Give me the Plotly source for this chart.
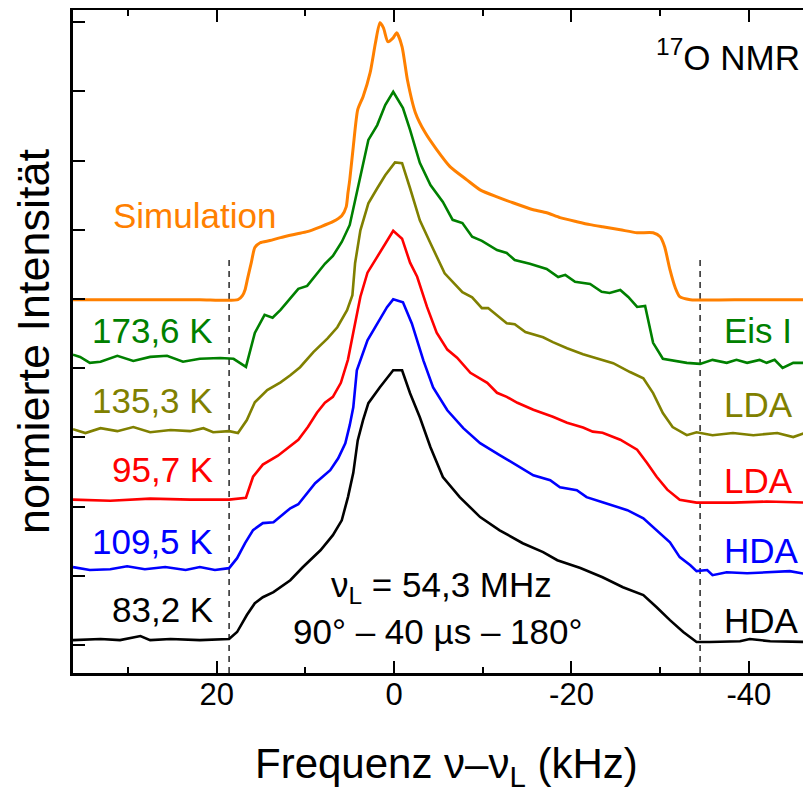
import plotly.graph_objects as go

# ---------------- data ----------------
# frequency nu - nu_L in kHz, intensity normalised to the spectrum maximum
freq_sim = [36.2, 27.5, 21.9, 17.6, 17.1, 16.8, 16.5, 16.1, 15.7, 15.1, 14.0, 12.8, 10.9, 9.8, 8.3, 6.9,
            5.9, 5.4, 5.2, 5.0, 4.6, 4.1, 3.5, 2.7, 2.1, 1.6, 1.2, 0.7, 0.1, -0.3, -0.9, -1.5, -2.4,
            -3.5, -4.8, -6.3, -8.2, -9.7, -11.6, -13.4, -15.7, -17.2, -18.7, -20.6, -22.1, -23.5,
            -25.5, -27.4, -29.2, -30.0, -30.5, -31.1, -31.7, -32.2, -33.4, -40.1, -47.0]
int_sim = [0, 0, 0, 0, 0.015, 0.037, 0.081, 0.137, 0.193, 0.211, 0.219, 0.23, 0.244, 0.252, 0.27, 0.289,
           0.311, 0.344, 0.396, 0.444, 0.567, 0.704, 0.752, 0.841, 0.952, 1.026, 1.007, 0.956, 0.97,
           0.989, 0.937, 0.815, 0.693, 0.619, 0.556, 0.493, 0.444, 0.407, 0.381, 0.359, 0.333, 0.322,
           0.304, 0.289, 0.278, 0.27, 0.259, 0.248, 0.248, 0.233, 0.196, 0.111, 0.044, 0.011, 0, 0, 0]

freq_1736K = [36.2, 35.4, 34.3, 33.1, 31.2, 29.4, 27.5, 25.6, 23.8, 21.9, 19.6, 18.1, 16.7, 15.7, 14.6,
              13.7, 12.8, 11.7, 10.8, 9.8, 8.7, 7.8, 6.9, 5.9, 5.0, 4.4, 3.6, 2.9, 1.9, 1.0, 0.1, -1.0,
              -1.8, -2.9, -4.1, -5.5, -6.6, -7.7, -8.8, -9.9, -11.6, -12.7, -13.6, -15.3, -17.2, -18.5,
              -19.3, -20.4, -22.1, -23.4, -24.3, -25.5, -26.4, -27.4, -28.3, -29.2, -30.3, -33.0, -34.5,
              -35.9, -37.5, -38.6, -39.8, -41.2, -42.0, -42.9, -43.8, -45.0, -47.0]
int_1736K = [0.019, 0.011, -0.011, -0.007, 0.015, -0.004, 0.011, 0.015, -0.007, 0.004, 0.007, 0.004,
             -0.026, 0.1, 0.167, 0.156, 0.185, 0.23, 0.263, 0.274, 0.319, 0.356, 0.385, 0.437, 0.5, 0.593,
             0.715, 0.815, 0.87, 0.944, 0.993, 0.933, 0.852, 0.73, 0.648, 0.585, 0.519, 0.507, 0.456,
             0.441, 0.407, 0.396, 0.37, 0.356, 0.337, 0.307, 0.315, 0.289, 0.281, 0.252, 0.248, 0.259,
             0.233, 0.196, 0.2, 0.063, 0.004, -0.011, -0.015, 0, -0.011, 0, -0.011, 0, -0.011, 0, -0.03,
             -0.011, -0.011]

freq_1353K = [36.2, 34.8, 33.1, 31.2, 29.4, 27.5, 25.2, 23.0, 21.5, 20.4, 18.6, 17.6, 16.6, 15.7, 14.3,
              12.8, 11.7, 10.6, 9.1, 7.5, 6.4, 5.3, 4.7, 4.4, 3.8, 2.9, 1.9, 1.0, -0.1, -0.9, -1.8, -2.9,
              -4.1, -5.7, -7.7, -8.8, -9.9, -10.6, -12.7, -13.6, -14.8, -16.8, -17.9, -19.5, -21.3,
              -22.9, -24.7, -26.6, -28.1, -29.2, -30.3, -31.4, -33.0, -34.1, -35.9, -38.2, -40.5, -43.2,
              -45.0, -46.5, -47.0]
int_1353K = [0.007, -0.007, 0.011, 0, 0.015, -0.004, 0.004, 0, 0.011, -0.004, 0, -0.007, 0.041, 0.107,
             0.152, 0.181, 0.207, 0.237, 0.293, 0.344, 0.385, 0.448, 0.504, 0.622, 0.744, 0.844, 0.9,
             0.948, 0.996, 0.993, 0.9, 0.781, 0.696, 0.585, 0.515, 0.496, 0.456, 0.456, 0.4, 0.396, 0.367,
             0.348, 0.33, 0.307, 0.285, 0.27, 0.252, 0.219, 0.196, 0.141, 0.067, 0.015, -0.015, -0.004,
             -0.015, -0.007, -0.015, -0.007, -0.022, -0.004, -0.007]

freq_957K = [36.2, 32.0, 27.5, 23.0, 18.6, 16.7, 15.9, 14.8, 13.1, 11.9, 10.8, 9.7, 8.7, 7.8, 6.9, 6.0,
             5.2, 4.6, 3.8, 3.0, 1.9, 0.8, 0.1, -0.9, -1.8, -2.6, -3.7, -4.8, -6.0, -7.1, -8.6, -10.5,
             -11.6, -12.7, -13.9, -15.7, -17.9, -19.5, -21.3, -22.4, -23.5, -25.5, -27.4, -28.5, -29.6,
             -30.8, -32.2, -34.1, -38.2, -42.0, -47.0]
int_957K = [0, -0.004, 0.004, 0, 0, 0.007, 0.085, 0.13, 0.163, 0.193, 0.222, 0.27, 0.322, 0.359, 0.381,
            0.433, 0.519, 0.619, 0.752, 0.841, 0.9, 0.956, 0.996, 0.967, 0.878, 0.826, 0.715, 0.619,
            0.556, 0.526, 0.47, 0.433, 0.396, 0.381, 0.359, 0.333, 0.307, 0.285, 0.267, 0.252, 0.248,
            0.222, 0.185, 0.137, 0.085, 0.037, 0, -0.011, -0.011, -0.007, -0.011]

freq_1095K = [36.2, 34.3, 32.0, 30.1, 28.1, 25.8, 23.5, 21.9, 20.2, 18.6, 17.7, 16.8, 15.9, 14.8, 13.6,
              12.6, 11.7, 10.8, 9.8, 8.9, 7.2, 6.3, 5.5, 5.0, 4.6, 4.2, 3.0, 1.9, 0.8, 0.1, -1.0, -2.0,
              -2.6, -3.3, -4.4, -6.0, -7.8, -9.7, -11.9, -13.9, -15.7, -17.6, -18.7, -20.6, -21.7, -23.5,
              -26.3, -28.1, -29.6, -31.1, -32.2, -33.4, -34.1, -35.3, -35.9, -37.5, -39.8, -42.0, -44.6,
              -46.5, -47.0]
int_1095K = [0.004, -0.007, -0.004, 0.007, -0.004, 0.004, -0.007, 0.004, -0.007, 0, 0.037, 0.093, 0.141,
             0.167, 0.17, 0.196, 0.222, 0.237, 0.278, 0.315, 0.363, 0.407, 0.463, 0.53, 0.596, 0.733,
             0.844, 0.907, 0.967, 0.996, 0.985, 0.907, 0.844, 0.77, 0.67, 0.585, 0.519, 0.463, 0.419,
             0.381, 0.344, 0.326, 0.3, 0.289, 0.263, 0.244, 0.215, 0.185, 0.141, 0.096, 0.041, 0.011,
             -0.011, -0.007, -0.026, -0.015, -0.019, -0.015, -0.011, -0.022, -0.022]

freq_832K = [36.2, 33.1, 30.9, 28.6, 27.5, 25.2, 21.9, 18.6, 17.7, 16.6, 15.7, 14.8, 13.6, 11.7, 10.3,
             8.3, 6.9, 5.9, 5.2, 4.6, 4.1, 3.5, 2.9, 1.6, 0.1, -0.9, -1.8, -2.9, -4.1, -5.5, -7.4, -9.7,
             -11.9, -14.5, -16.8, -18.4, -21.0, -23.5, -25.8, -28.1, -29.6, -31.1, -32.6, -34.1, -35.6,
             -39.0, -40.1, -42.4, -47.0]
int_832K = [0, 0.004, 0, 0.015, 0, 0.004, 0, 0.004, 0.03, 0.093, 0.137, 0.159, 0.178, 0.222, 0.27,
            0.333, 0.389, 0.444, 0.53, 0.62, 0.74, 0.815, 0.878, 0.937, 1.0, 1.0, 0.915, 0.826, 0.715,
            0.604, 0.53, 0.456, 0.407, 0.359, 0.326, 0.296, 0.267, 0.233, 0.196, 0.167, 0.122, 0.074,
            0.03, -0.007, -0.007, -0.004, 0.004, -0.004, -0.007]

# series metadata: (temperature label, phase label, colour, vertical offset)
temp_labels = ["Simulation", "173,6 K", "135,3 K", "95,7 K", "109,5 K", "83,2 K"]
phase_labels = ["", "Eis I", "LDA", "LDA", "HDA", "HDA"]
colors = ["rgb(255,128,0)", "rgb(0,128,0)", "rgb(128,128,0)", "rgb(255,0,0)", "rgb(0,0,255)", "black"]
offsets = [4.99, 4.12, 3.09, 2.10, 1.11, 0.07]
SCALE = 3.9  # height of a normalised spectrum in stacking units

freqs = [freq_sim, freq_1736K, freq_1353K, freq_957K, freq_1095K, freq_832K]
ints = [int_sim, int_1736K, int_1353K, int_957K, int_1095K, int_832K]

# edges of the powder pattern (dashed guide lines), kHz
dash_x = [18.6, -34.5]
dash_top = 5.6

x_tickvals = [20, 0, -20, -40]
x_ticktext = ["20", "0", "-20", "-40"]
y_tickvals = list(range(10))

X_RANGE = [36.2, -46.1]
Y_RANGE = [-0.405, 9.176]

FONT = "Liberation Sans, Arial, sans-serif"
LBL = 35

# ---------------- figure ----------------
fig = go.Figure()

for i in range(len(freqs)):
    y = [offsets[i] + SCALE * v for v in ints[i]]
    fig.add_trace(go.Scatter(
        x=freqs[i], y=y, mode="lines",
        line=dict(color=colors[i], width=3 if i == 0 else 2.6,
                  shape="spline" if i == 0 else "linear", smoothing=0.6),
        name=temp_labels[i], showlegend=False, hoverinfo="skip"))

for xd in dash_x:
    fig.add_shape(type="line", xref="x", yref="y", x0=xd, x1=xd, y0=Y_RANGE[0], y1=dash_top,
                  line=dict(color="#333333", width=1.6, dash="6px,5px"), layer="below")

# labels
left_y = [None, 4.55, 3.54, 2.53, 1.49, 0.51]
right_y = [None, 4.55, 3.47, 2.38, 1.37, 0.36]
for i in range(1, 6):
    fig.add_annotation(x=20.2, y=left_y[i], xref="x", yref="y", text=temp_labels[i],
                       showarrow=False, xanchor="right", yanchor="middle",
                       font=dict(color=colors[i], size=LBL, family=FONT))
    fig.add_annotation(x=-37.0, y=right_y[i], xref="x", yref="y", text=phase_labels[i],
                       showarrow=False, xanchor="left", yanchor="middle",
                       font=dict(color=colors[i], size=LBL, family=FONT))

fig.add_annotation(x=22.5, y=6.21, xref="x", yref="y", text="Simulation", showarrow=False,
                   xanchor="center", yanchor="middle", font=dict(color=colors[0], size=LBL, family=FONT))
fig.add_annotation(x=-46.0, y=8.53, xref="x", yref="y", text="<sup>17</sup>O NMR", showarrow=False,
                   xanchor="right", yanchor="middle", font=dict(color="black", size=LBL, family=FONT))
fig.add_annotation(x=-5.3, y=0.84, xref="x", yref="y", text="ν<sub>L</sub> = 54,3 MHz", showarrow=False,
                   xanchor="center", yanchor="middle", font=dict(color="black", size=LBL, family=FONT))
fig.add_annotation(x=-4.85, y=0.19, xref="x", yref="y", text="90° – 40 µs – 180°", showarrow=False,
                   xanchor="center", yanchor="middle", font=dict(color="black", size=LBL, family=FONT))

# x axis title placed as a paper-anchored annotation for exact positioning
fig.add_annotation(x=0.512, y=-0.141, xref="paper", yref="paper", text="Frequenz ν–ν<sub>L</sub> (kHz)",
                   showarrow=False, xanchor="center", yanchor="middle",
                   font=dict(size=42, family=FONT, color="black"))

fig.update_xaxes(range=X_RANGE, tickvals=x_tickvals, ticktext=x_ticktext,
                 ticks="inside", ticklen=12, tickwidth=2, tickcolor="black",
                 minor=dict(dtick=10, tick0=0, ticks="inside", ticklen=6, tickwidth=2, tickcolor="black"),
                 showline=True, linewidth=2.5, linecolor="black", mirror="ticks",
                 showgrid=False, zeroline=False, ticklabelstandoff=-8,
                 tickfont=dict(size=31, family=FONT, color="black"))
fig.update_yaxes(range=Y_RANGE, tickvals=y_tickvals, showticklabels=False,
                 ticks="inside", ticklen=12, tickwidth=2, tickcolor="black",
                 showline=True, linewidth=2.5, linecolor="black", mirror=False,
                 showgrid=False, zeroline=False,
                 title=dict(text="normierte Intensität", font=dict(size=45, family=FONT, color="black"),
                            standoff=21))

# the page body adds an 8 px margin, so the figure is sized/offset to land on the window grid
fig.update_layout(width=795, height=786, margin=dict(l=65, r=0, t=2, b=121),
                  plot_bgcolor="white", paper_bgcolor="white", showlegend=False)

fig.write_html("out.html")
